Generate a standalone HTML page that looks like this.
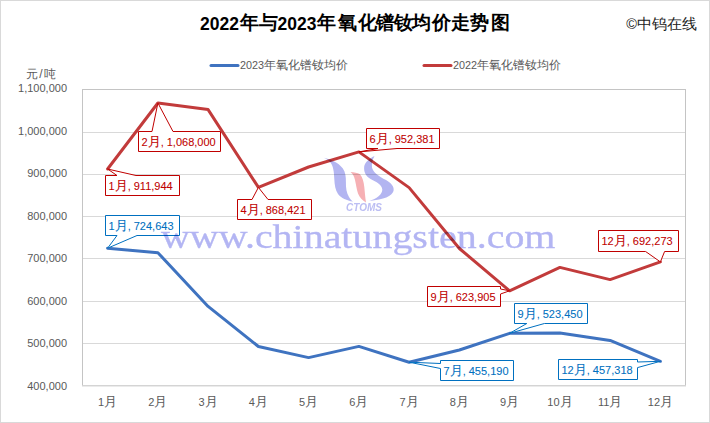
<!DOCTYPE html>
<html><head><meta charset="utf-8"><style>
html,body{margin:0;padding:0;background:#fff;}
body{width:710px;height:423px;overflow:hidden;position:relative;font-family:"Liberation Sans",sans-serif;}
svg{position:absolute;left:0;top:0;}
.ax{font-size:11px;fill:#595959;}
.lb{font-size:11px;stroke-width:0.08px;}
.lb .m{font-size:12.5px;}
.lg{font-size:12.2px;fill:#595959;}
.tt{font-size:19px;font-weight:bold;fill:#000;}
.tt .d{font-size:17.5px;}
.cp{font-size:14.5px;fill:#222;}
.wm{font-family:"Liberation Serif",serif;font-size:34px;fill:#b3b5f3;stroke:#b3b5f3;stroke-width:0.3px;}
.ctoms{font-size:10px;font-weight:bold;font-style:italic;fill:#bcbef3;}
</style></head><body>
<svg width="710" height="423" viewBox="0 0 710 423">
<rect x="0.5" y="0.5" width="709" height="422" fill="#fff" stroke="#d9d9d9"/>
<text y="30" class="tt"><tspan class="d" x="200 209.7 219.5 229.2">2022</tspan><tspan x="240 258.5" y="29.3">年与</tspan><tspan class="d" y="30" x="277.5 287.2 297 306.7">2023</tspan><tspan y="29.3" x="317 338 357.5 375.5 393.5 412 431.5 451 470 490.5">年氧化镨钕均价走势图</tspan></text>
<text x="697" y="29" class="cp" text-anchor="end">©中钨在线</text>
<line x1="211" y1="65.5" x2="238" y2="65.5" stroke="#3f73c0" stroke-width="3" stroke-linecap="round"/>
<text x="240" y="69.4" class="lg"><tspan style="font-size:10.8px">2023</tspan>年氧化镨钕均价</text>
<line x1="424" y1="65.5" x2="451" y2="65.5" stroke="#c23b3b" stroke-width="3" stroke-linecap="round"/>
<text x="453" y="69.4" class="lg"><tspan style="font-size:10.8px">2022</tspan>年氧化镨钕均价</text>
<text x="41.5" y="78" class="ax" text-anchor="middle" style="font-size:12px;letter-spacing:1px">元/吨</text>
<line x1="82" y1="132.5" x2="685" y2="132.5" stroke="#d9d9d9"/><line x1="82" y1="174.5" x2="685" y2="174.5" stroke="#d9d9d9"/><line x1="82" y1="216.5" x2="685" y2="216.5" stroke="#d9d9d9"/><line x1="82" y1="258.5" x2="685" y2="258.5" stroke="#d9d9d9"/><line x1="82" y1="301.5" x2="685" y2="301.5" stroke="#d9d9d9"/><line x1="82" y1="343.5" x2="685" y2="343.5" stroke="#d9d9d9"/>
<rect x="82.5" y="89.5" width="603" height="296" fill="none" stroke="#c4c4c4"/>
<line x1="82" y1="385.5" x2="686" y2="385.5" stroke="#d4d4d4"/><line x1="82" y1="386.5" x2="686" y2="386.5" stroke="#ebebeb"/>
<text x="67" y="92.3" class="ax" text-anchor="end">1,100,000</text><text x="67" y="134.8" class="ax" text-anchor="end">1,000,000</text><text x="67" y="177.2" class="ax" text-anchor="end">900,000</text><text x="67" y="219.7" class="ax" text-anchor="end">800,000</text><text x="67" y="262.2" class="ax" text-anchor="end">700,000</text><text x="67" y="304.6" class="ax" text-anchor="end">600,000</text><text x="67" y="347.1" class="ax" text-anchor="end">500,000</text><text x="67" y="389.6" class="ax" text-anchor="end">400,000</text>
<text x="107.6" y="406" class="ax" text-anchor="middle">1<tspan style="font-size:12.5px">月</tspan></text><text x="157.9" y="406" class="ax" text-anchor="middle">2<tspan style="font-size:12.5px">月</tspan></text><text x="208.1" y="406" class="ax" text-anchor="middle">3<tspan style="font-size:12.5px">月</tspan></text><text x="258.4" y="406" class="ax" text-anchor="middle">4<tspan style="font-size:12.5px">月</tspan></text><text x="308.6" y="406" class="ax" text-anchor="middle">5<tspan style="font-size:12.5px">月</tspan></text><text x="358.9" y="406" class="ax" text-anchor="middle">6<tspan style="font-size:12.5px">月</tspan></text><text x="409.1" y="406" class="ax" text-anchor="middle">7<tspan style="font-size:12.5px">月</tspan></text><text x="459.4" y="406" class="ax" text-anchor="middle">8<tspan style="font-size:12.5px">月</tspan></text><text x="509.6" y="406" class="ax" text-anchor="middle">9<tspan style="font-size:12.5px">月</tspan></text><text x="559.9" y="406" class="ax" text-anchor="middle">10<tspan style="font-size:12.5px">月</tspan></text><text x="610.1" y="406" class="ax" text-anchor="middle">11<tspan style="font-size:12.5px">月</tspan></text><text x="660.4" y="406" class="ax" text-anchor="middle">12<tspan style="font-size:12.5px">月</tspan></text>
<polyline points="107.6,248.2 157.9,252.7 208.1,306.4 258.4,346.5 308.6,357.6 358.9,346.4 409.1,362.2 459.4,350.0 509.6,333.3 559.9,333.0 610.1,340.4 660.4,361.3" fill="none" stroke="#3f73c0" stroke-width="3" stroke-linejoin="round" stroke-linecap="round"/>
<polyline points="107.6,169.0 157.9,103.0 208.1,109.6 258.4,187.4 308.6,167.0 358.9,151.9 409.1,187.6 459.4,248.5 509.6,290.8 559.9,267.4 610.1,279.6 660.4,261.9" fill="none" stroke="#c23b3b" stroke-width="3" stroke-linejoin="round" stroke-linecap="round"/>
<path d="M105.5,175.5 L117,175.5 L107.6,169.0 L136,175.5 L179.5,175.5 L179.5,195.5 L105.5,195.5 Z" fill="#fff" stroke="#c00000" stroke-width="1"/><text x="108.5" y="189.5" fill="#c00000" stroke="#c00000" class="lb">1<tspan class="m">月</tspan>, 911,944</text>
<path d="M138.5,131.5 L152,131.5 L157.9,103.0 L173,131.5 L220.5,131.5 L220.5,151.5 L138.5,151.5 Z" fill="#fff" stroke="#c00000" stroke-width="1"/><text x="141.5" y="145.5" fill="#c00000" stroke="#c00000" class="lb">2<tspan class="m">月</tspan>, 1,068,000</text>
<path d="M237.5,199.5 L252,199.5 L258.4,187.4 L268,199.5 L311.5,199.5 L311.5,219.5 L237.5,219.5 Z" fill="#fff" stroke="#c00000" stroke-width="1"/><text x="240.5" y="213.5" fill="#c00000" stroke="#c00000" class="lb">4<tspan class="m">月</tspan>, 868,421</text>
<path d="M366.5,128.5 L439.5,128.5 L439.5,148.5 L397,148.5 L358.9,151.9 L378,148.5 L366.5,148.5 Z" fill="#fff" stroke="#c00000" stroke-width="1"/><text x="369.5" y="142.5" fill="#c00000" stroke="#c00000" class="lb">6<tspan class="m">月</tspan>, 952,381</text>
<path d="M427.5,286.5 L500.5,286.5 L500.5,289 L509.6,290.8 L500.5,294 L500.5,306.5 L427.5,306.5 Z" fill="#fff" stroke="#c00000" stroke-width="1"/><text x="430.5" y="300.5" fill="#c00000" stroke="#c00000" class="lb">9<tspan class="m">月</tspan>, 623,905</text>
<path d="M598.5,230.5 L678.5,230.5 L678.5,251.5 L664.6,251.5 L660.4,261.9 L645.6,251.5 L598.5,251.5 Z" fill="#fff" stroke="#c00000" stroke-width="1"/><text x="601.5" y="244.5" fill="#c00000" stroke="#c00000" class="lb">12<tspan class="m">月</tspan>, 692,273</text>
<path d="M105.5,215.5 L179.5,215.5 L179.5,235.5 L137,235.5 L107.6,248.2 L117,235.5 L105.5,235.5 Z" fill="#fff" stroke="#0070c0" stroke-width="1"/><text x="108.5" y="229.5" fill="#0070c0" stroke="#0070c0" class="lb">1<tspan class="m">月</tspan>, 724,643</text>
<path d="M440.5,360.5 L513.5,360.5 L513.5,380.5 L440.5,380.5 L440.5,368.5 L409.1,362.2 L440.5,363.5 Z" fill="#fff" stroke="#0070c0" stroke-width="1"/><text x="443.5" y="374.5" fill="#0070c0" stroke="#0070c0" class="lb">7<tspan class="m">月</tspan>, 455,190</text>
<path d="M514.5,303.5 L587.5,303.5 L587.5,323.5 L544.4,323.5 L509.6,333.3 L526.8,323.5 L514.5,323.5 Z" fill="#fff" stroke="#0070c0" stroke-width="1"/><text x="517.5" y="317.5" fill="#0070c0" stroke="#0070c0" class="lb">9<tspan class="m">月</tspan>, 523,450</text>
<path d="M558.5,359.5 L637.5,359.5 L637.5,362 L660.4,361.3 L637.5,367.6 L637.5,379.5 L558.5,379.5 Z" fill="#fff" stroke="#0070c0" stroke-width="1"/><text x="561.5" y="373.5" fill="#0070c0" stroke="#0070c0" class="lb">12<tspan class="m">月</tspan>, 457,318</text>

<g style="mix-blend-mode:multiply">
<path d="M323.8,157.8 C331,159.5 338,162.5 342.7,168.2 C345.5,172 346,177 345.9,182 C345.8,188 346.5,193 349,197 C350.3,199 351.5,200.5 353,201.5 C347,200.8 341,198 338,194 C335.3,190 334.6,185 334.3,179 C334,172 333.5,166 330,162 C328,160 326,158.7 323.8,157.8 Z" fill="#b3b5f1"/>
<path d="M350.5,172.1 C354,172.3 357.5,173 360,174.2 C362.5,177 363.8,182 364.3,187 C364.8,192 365.2,197 366,202.6 C362.5,200.5 359.5,197.5 358,193.5 C356.5,189 356,184 355,180 C354.2,176.5 352.8,174 350.5,172.1 Z" fill="#f6b0b4"/>
<path d="M374.5,155.9 C372.5,159.5 371.5,163.5 372,167.5 C373,172.5 379,176.5 386,180 C391.5,183 394.5,187 393.5,191 C392,196 384,199.8 369.3,200.9 C376.5,198.8 382.5,194.5 382.3,189.5 C382,184.5 376,182 371,179.3 C365.5,176.3 363.6,171.5 364.2,166.5 C365,162 369,158.8 374.5,155.9 Z" fill="#b3b5f1"/>
<text x="364" y="211.4" class="ctoms" text-anchor="middle">CTOMS</text>
<text x="161" y="248.5" class="wm" transform="translate(161 0) scale(1.175 1) translate(-161 0)">www.chinatungsten.com</text>
</g>
</svg>
</body></html>
